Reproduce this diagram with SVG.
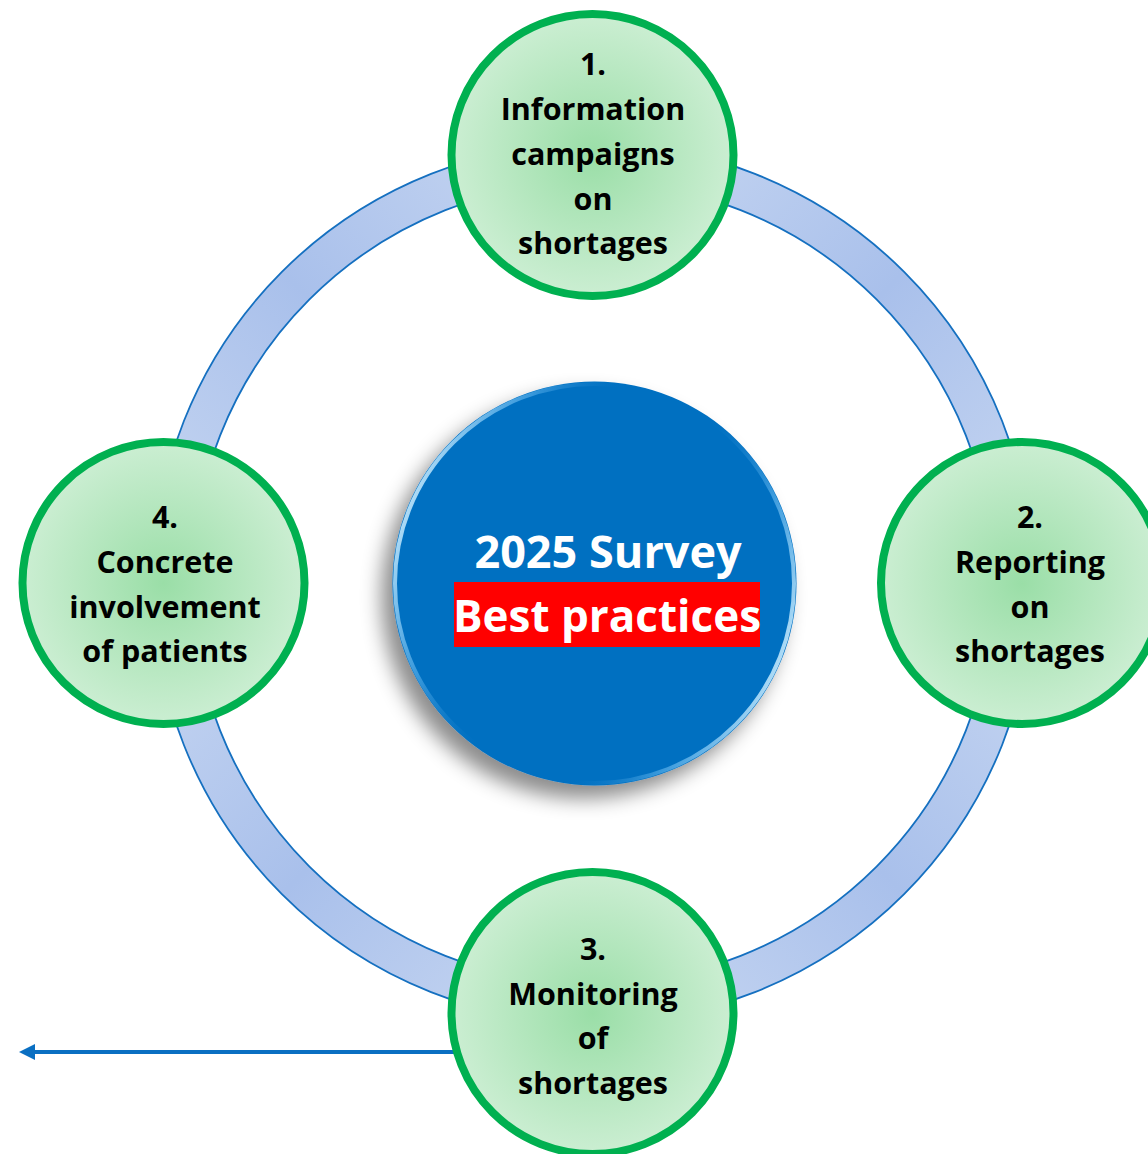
<svg xmlns="http://www.w3.org/2000/svg" width="1148" height="1154" viewBox="0 0 1148 1154">
  <style>
    .ring { stroke: #1570c0; stroke-width: 1.8; }
    .node-circle { fill: url(#greenFill); stroke: #00b050; stroke-width: 8; }
    .node-text { font-family: 'Open Sans', 'Liberation Sans', sans-serif; font-weight: bold; font-size: 30.5px; fill: #000; text-anchor: middle; }
    .center-text { font-family: 'Open Sans', 'Liberation Sans', sans-serif; font-weight: bold; font-size: 44px; fill: #fff; text-anchor: middle; }
  </style>
  <defs>
    <radialGradient id="greenFill" cx="0.5" cy="0.5" r="0.5">
      <stop offset="0" stop-color="#9adea7"/>
      <stop offset="1" stop-color="#cbeed2"/>
    </radialGradient>
    <linearGradient id="ringTL" x1="0" y1="1" x2="1" y2="0">
      <stop offset="0" stop-color="#c9d8f2"/>
      <stop offset="0.5" stop-color="#a9c0eb"/>
      <stop offset="1" stop-color="#c9d8f2"/>
    </linearGradient>
    <linearGradient id="ringTR" x1="0" y1="0" x2="1" y2="1">
      <stop offset="0" stop-color="#c9d8f2"/>
      <stop offset="0.5" stop-color="#a9c0eb"/>
      <stop offset="1" stop-color="#c9d8f2"/>
    </linearGradient>
    <linearGradient id="rim" x1="0" y1="0.3" x2="1" y2="0.7">
      <stop offset="0" stop-color="#d6f2ff" stop-opacity="0.95"/>
      <stop offset="0.2" stop-color="#6fc0f5" stop-opacity="0.5"/>
      <stop offset="0.4" stop-color="#0470c1" stop-opacity="0"/>
      <stop offset="0.6" stop-color="#0470c1" stop-opacity="0"/>
      <stop offset="0.8" stop-color="#6fc0f5" stop-opacity="0.5"/>
      <stop offset="1" stop-color="#d6f2ff" stop-opacity="0.95"/>
    </linearGradient>
    <filter id="shadow" x="-20%" y="-20%" width="140%" height="140%">
      <feDropShadow dx="-11" dy="13" stdDeviation="10" flood-color="#000" flood-opacity="0.45"/>
    </filter>
    <marker id="arrowHead" viewBox="0 0 16 16" refX="1" refY="8" markerWidth="16" markerHeight="16" markerUnits="userSpaceOnUse" orient="auto-start-reverse">
      <path d="M0,0 L16,8 L0,16 Z" fill="#0a6fc2"/>
    </marker>
  </defs>

  <g id="connectors">
    <path id="ring-tl" class="ring" fill="url(#ringTL)" d="M153,583 A440,440 0 0 1 593,143 L593,182 A401,401 0 0 0 192,583 Z"/>
    <path id="ring-tr" class="ring" fill="url(#ringTR)" d="M593,143 A440,440 0 0 1 1033,583 L994,583 A401,401 0 0 0 593,182 Z"/>
    <path id="ring-br" class="ring" fill="url(#ringTL)" d="M1033,583 A440,440 0 0 1 593,1023 L593,984 A401,401 0 0 0 994,583 Z"/>
    <path id="ring-bl" class="ring" fill="url(#ringTR)" d="M593,1023 A440,440 0 0 1 153,583 L192,583 A401,401 0 0 0 593,984 Z"/>
    <line id="arrow-out" x1="520" y1="1052" x2="34" y2="1052" stroke="#0a6fc2" stroke-width="4" marker-end="url(#arrowHead)"/>
  </g>

  <g id="center">
    <circle cx="594.5" cy="583.5" r="202" fill="#0470c1" filter="url(#shadow)"/>
    <circle cx="594.5" cy="583.5" r="199.5" fill="none" stroke="url(#rim)" stroke-width="4"/>
    <text class="center-text" x="608" y="568" style="font-size:45px">2025 Survey</text>
    <rect x="454" y="582" width="306" height="65" fill="#ff0000"/>
    <text class="center-text" x="607" y="632">Best practices</text>
  </g>

  <g id="node1">
    <circle class="node-circle" cx="592.5" cy="155" r="141"/>
    <text class="node-text" x="593" y="75">1.</text>
    <text class="node-text" x="593" y="120">Information</text>
    <text class="node-text" x="593" y="165">campaigns</text>
    <text class="node-text" x="593" y="210">on</text>
    <text class="node-text" x="593" y="254">shortages</text>
  </g>

  <g id="node2">
    <circle class="node-circle" cx="1022" cy="583" r="141"/>
    <text class="node-text" x="1030" y="528">2.</text>
    <text class="node-text" x="1030" y="573">Reporting</text>
    <text class="node-text" x="1030" y="618">on</text>
    <text class="node-text" x="1030" y="662">shortages</text>
  </g>

  <g id="node3">
    <circle class="node-circle" cx="592.5" cy="1013" r="141"/>
    <text class="node-text" x="593" y="960">3.</text>
    <text class="node-text" x="593" y="1005">Monitoring</text>
    <text class="node-text" x="593" y="1049">of</text>
    <text class="node-text" x="593" y="1094">shortages</text>
  </g>

  <g id="node4">
    <circle class="node-circle" cx="163.5" cy="583" r="141"/>
    <text class="node-text" x="165" y="528">4.</text>
    <text class="node-text" x="165" y="573">Concrete</text>
    <text class="node-text" x="165" y="618">involvement</text>
    <text class="node-text" x="165" y="662">of patients</text>
  </g>
</svg>
